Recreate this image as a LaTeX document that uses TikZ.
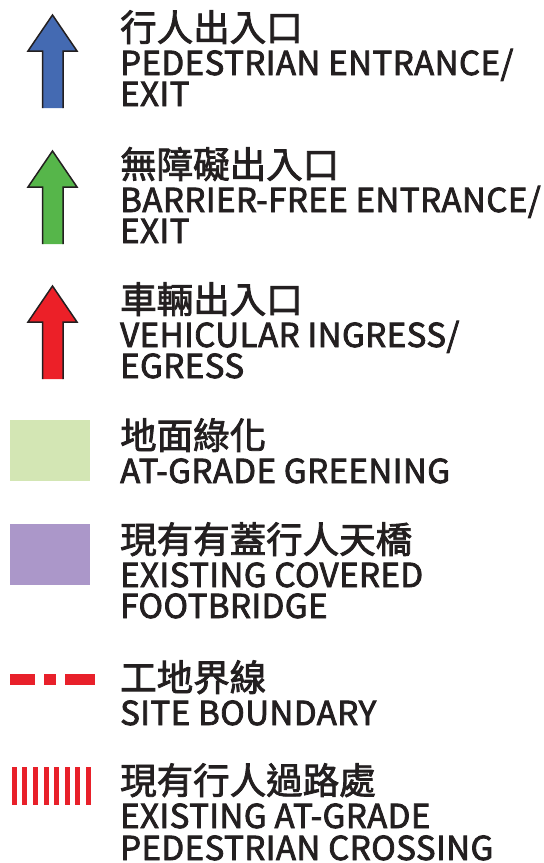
\documentclass[tikz,border=0pt]{standalone}
\usepackage{fontspec}
\newfontfamily\zhfont{Noto Sans CJK TC}[FakeBold=2.2]
\newfontfamily\enfont{Noto Sans CJK TC}[FakeBold=2.4, LetterSpace=1.5]
\definecolor{ink}{RGB}{35,31,32}
\definecolor{pedblue}{RGB}{68,106,178}
\definecolor{bfgreen}{RGB}{86,182,74}
\definecolor{vehred}{RGB}{236,32,40}
\definecolor{greening}{RGB}{211,230,180}
\definecolor{bridge}{RGB}{171,151,201}
\definecolor{bndred}{RGB}{232,32,42}
\tikzset{
  zh/.style={anchor=base west, inner sep=0pt, text=ink, font=\zhfont\fontsize{36.5}{36.5}\selectfont},
  en/.style={anchor=base west, inner sep=0pt, text=ink, font=\enfont\fontsize{33}{33}\selectfont},
  outl/.style={draw=ink, line width=1.5pt, line join=miter},
  legarrow/.pic={
    \fill[#1] (0,0) -- (24.5,36) -- (10.5,36) -- (10.5,93) -- (-10,93) -- (-10,36) -- (-24.5,36) -- cycle;
    \draw[outl] (-10,93) -- (-10,36) -- (-24.5,36) -- (0,0) -- (24.5,36) -- (10.5,36) -- (10.5,93);
  }
}
\begin{document}
\begin{tikzpicture}[x=1pt,y=-1pt]
\useasboundingbox (0,0) rectangle (544,863);
% symbols
\pic at (52.5,15) {legarrow=pedblue};
\pic at (52.5,151) {legarrow=bfgreen};
\pic at (52.5,286) {legarrow=vehred};
\fill[greening] (10,420) rectangle (90,481);
\fill[bridge] (10,524) rectangle (90,585);
\draw[bndred, line width=11pt, dash pattern=on 25pt off 9pt on 12pt off 9pt on 30pt off 10pt] (10,679.5) -- (95,679.5);
\foreach \i in {0,...,7} {
  \fill[bndred] ({11.8+10.6*\i},767) rectangle ({16.8+10.6*\i},805);
}
% texts
\node[zh] (r1zh) at (120,41) {行人出入口};
\node[en] (r1a) at (120,75) {PEDESTRIAN ENTRANCE/};
\node[en] (r1b) at (120,106) {EXIT};
\node[zh] (r2zh) at (120,178) {無障礙出入口};
\node[en] (r2a) at (120,212) {BARRIER-FREE ENTRANCE/};
\node[en] (r2b) at (120,243) {EXIT};
\node[zh] (r3zh) at (120,313) {車輛出入口};
\node[en] (r3a) at (120,347) {VEHICULAR INGRESS/};
\node[en] (r3b) at (120,378) {EGRESS};
\node[zh] (r4zh) at (120,449) {地面綠化};
\node[en] (r4a) at (120,483) {AT-GRADE GREENING};
\node[zh] (r5zh) at (120,553) {現有有蓋行人天橋};
\node[en] (r5a) at (120,587) {EXISTING COVERED};
\node[en] (r5b) at (120,618) {FOOTBRIDGE};
\node[zh] (r6zh) at (120,691) {工地界線};
\node[en] (r6a) at (120,725) {SITE BOUNDARY};
\node[zh] (r7zh) at (120,794) {現有行人過路處};
\node[en] (r7a) at (120,828) {EXISTING AT-GRADE};
\node[en] (r7b) at (120,860) {PEDESTRIAN CROSSING};
\end{tikzpicture}
\end{document}
